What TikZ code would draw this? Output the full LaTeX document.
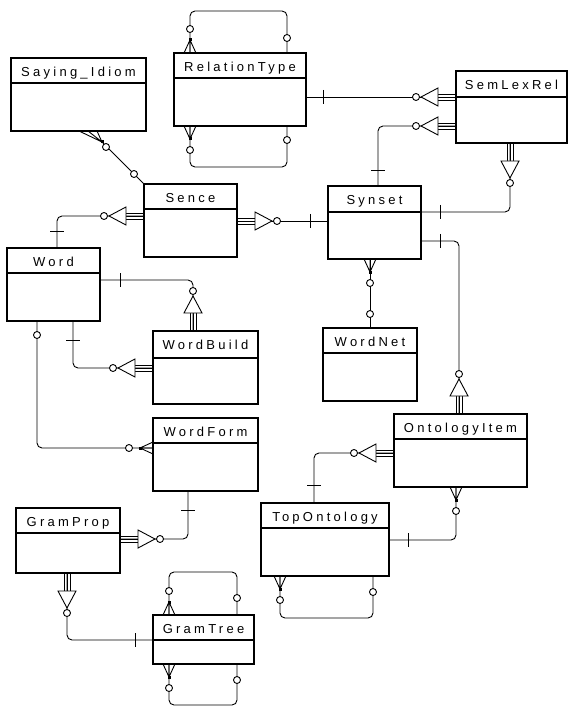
\documentclass[tikz,border=0pt]{standalone}
\usepackage{fontspec}
\setmainfont{Liberation Sans}[LetterSpace=25]
\usetikzlibrary{calc}
\tikzset{
  ent/.style={draw, line width=1.2pt, rectangle, inner sep=0pt, outer sep=0pt},
  lbl/.style={inner sep=0pt, anchor=base, font=\fontsize{13}{15}\selectfont},
  conn/.style={line width=0.9pt},
  rc/.style={conn, rounded corners=5pt},
  ftri/.pic={
    \draw[conn] (0,-3)--(18,-3) (0,0)--(18,0) (0,3)--(18,3);
    \draw[conn,fill=white] (18,-9)--(35,0)--(18,9)--cycle;
    \draw[conn,fill=white] (40,0) circle[radius=3.5];
  },
  crowopt/.pic={
    \draw[conn] (0,-6)--(13,0)--(0,6) (0,0)--(13,0);
    \fill (11.5,-1.5) rectangle (14.5,1.5);
    \draw[conn,fill=white] (24,0) circle[radius=3.5];
  },
  onebar/.pic={\draw[conn] (0,-7)--(0,7);},
  optc/.pic={\draw[conn,fill=white] (0,0) circle[radius=3.5];},
}
\newcommand\entity[7]{%
  \node[ent, minimum width={(#4-#2)*1pt}, minimum height={(#5-#3)*1pt}] (#1) at ({(#2+#4)/2},{(#3+#5)/2}) {};
  \draw[line width=1.2pt] (#1.west |- 0,#6) -- (#1.east |- 0,#6);
  \node[lbl] (#1-t) at ({(#2+#4)/2},{#3+18.5}) {#7};
}
\begin{document}
\begin{tikzpicture}[x=1pt,y=-1pt]
\useasboundingbox (0,0) rectangle (570,708);
% entities
\entity{si}{11}{58}{146}{131}{83}{Saying\_Idiom}
\entity{rt}{174}{53}{306}{126}{78}{RelationType}
\entity{slr}{456}{71}{567}{143}{97}{SemLexRel}
\entity{sence}{144}{184}{237}{257}{209}{Sence}
\entity{syn}{328}{186}{421}{259}{212}{Synset}
\entity{word}{7}{248}{100}{321}{273}{Word}
\entity{wb}{153}{331}{258}{404}{358}{WordBuild}
\entity{wf}{153}{418}{258}{491}{443}{WordForm}
\entity{wn}{323}{328}{417}{401}{353}{WordNet}
\entity{oi}{394}{414}{527}{487}{439}{OntologyItem}
\entity{to}{261}{503}{389}{576}{528}{TopOntology}
\entity{gp}{16}{508}{120}{573}{533}{GramProp}
\entity{gt}{153}{615}{254}{664}{640}{GramTree}

% Saying_Idiom -- Sence
\draw[conn] (sence.north west) -- (102,142);
\draw[conn] (si.south -| 79,0) -- (102,142) -- (si.south -| 97,0) (si.south -| 88,0) -- (102,142);
\fill (100.5,140.5) rectangle (103.5,143.5);
\pic at (106,147) {optc};
\pic at (134,174) {optc};

% RelationType self loops
\draw[rc] (rt.north -| 190,0) -- (190,11) -- (287,11) -- (rt.north -| 287,0);
\pic[rotate=90] at (rt.north -| 190,0) {crowopt};
\pic at (287,38) {optc};
\draw[rc] (rt.south -| 190,0) -- (190,167) -- (287,167) -- (rt.south -| 287,0);
\pic[rotate=-90] at (rt.south -| 190,0) {crowopt};
\pic at (287,140) {optc};

% RelationType -- SemLexRel
\draw[conn] (rt.east |- 0,97) -- (slr.west |- 0,97);
\pic at (323,97) {onebar};
\pic[rotate=180] at (slr.west |- 0,97) {ftri};

% Synset -- SemLexRel (1)
\draw[rc] (syn.north -| 378,0) -- (378,126) -- (slr.west |- 0,126);
\pic[rotate=90] at (378,170) {onebar};
\pic[rotate=180] at (slr.west |- 0,126) {ftri};

% SemLexRel -- Synset (2)
\draw[rc] (slr.south -| 510,0) -- (510,212) -- (syn.east |- 0,212);
\pic[rotate=-90] at (slr.south -| 510,0) {ftri};
\pic at (440,212) {onebar};

% Synset -- OntologyItem
\draw[rc] (syn.east |- 0,241) -- (459,241) -- (oi.north -| 459,0);
\pic at (440,241) {onebar};
\pic[rotate=90] at (oi.north -| 459,0) {ftri};

% Sence -- Synset
\draw[conn] (sence.east |- 0,221) -- (syn.west |- 0,221);
\pic at (sence.east |- 0,221) {ftri};
\pic at (310,221) {onebar};

% Sence -- Word
\draw[rc] (sence.west |- 0,216) -- (57,216) -- (word.north -| 57,0);
\pic[rotate=180] at (sence.west |- 0,216) {ftri};
\pic[rotate=90] at (57,231) {onebar};

% Synset -- WordNet
\draw[conn] (syn.south -| 370,0) -- (wn.north -| 370,0);
\pic[rotate=-90] at (syn.south -| 370,0) {crowopt};
\pic at (370,314) {optc};

% Word -- WordBuild (1)
\draw[rc] (word.east |- 0,280) -- (193,280) -- (wb.north -| 193,0);
\pic at (120,280) {onebar};
\pic[rotate=90] at (wb.north -| 193,0) {ftri};

% Word -- WordBuild (2)
\draw[rc] (word.south -| 73,0) -- (73,368) -- (wb.west |- 0,368);
\pic[rotate=90] at (73,340) {onebar};
\pic[rotate=180] at (wb.west |- 0,368) {ftri};

% Word -- WordForm
\draw[rc] (word.south -| 37,0) -- (37,448) -- (wf.west |- 0,448);
\pic at (37,335) {optc};
\pic[rotate=180] at (wf.west |- 0,448) {crowopt};

% WordForm -- GramProp
\draw[rc] (wf.south -| 188,0) -- (188,539) -- (gp.east |- 0,539);
\pic[rotate=90] at (188,510) {onebar};
\pic at (gp.east |- 0,539) {ftri};

% GramProp -- GramTree
\draw[rc] (gp.south -| 67,0) -- (67,640) -- (gt.west |- 0,640);
\pic[rotate=-90] at (gp.south -| 67,0) {ftri};
\pic at (135,640) {onebar};

% GramTree self loops
\draw[rc] (gt.north -| 169,0) -- (169,572) -- (237,572) -- (gt.north -| 237,0);
\pic[rotate=90] at (gt.north -| 169,0) {crowopt};
\pic at (237,598) {optc};
\draw[rc] (gt.south -| 169,0) -- (169,705) -- (237,705) -- (gt.south -| 237,0);
\pic[rotate=-90] at (gt.south -| 169,0) {crowopt};
\pic at (237,680) {optc};

% TopOntology -- OntologyItem
\draw[rc] (oi.south -| 456,0) -- (456,540) -- (to.east |- 0,540);
\pic[rotate=-90] at (oi.south -| 456,0) {crowopt};
\pic at (408,540) {onebar};

% OntologyItem -- TopOntology
\draw[rc] (oi.west |- 0,453) -- (314,453) -- (to.north -| 314,0);
\pic[rotate=180] at (oi.west |- 0,453) {ftri};
\pic[rotate=90] at (314,485) {onebar};

% TopOntology self loop
\draw[rc] (to.south -| 280,0) -- (280,618) -- (373,618) -- (to.south -| 373,0);
\pic[rotate=-90] at (to.south -| 280,0) {crowopt};
\pic at (373,592) {optc};
\end{tikzpicture}
\end{document}
